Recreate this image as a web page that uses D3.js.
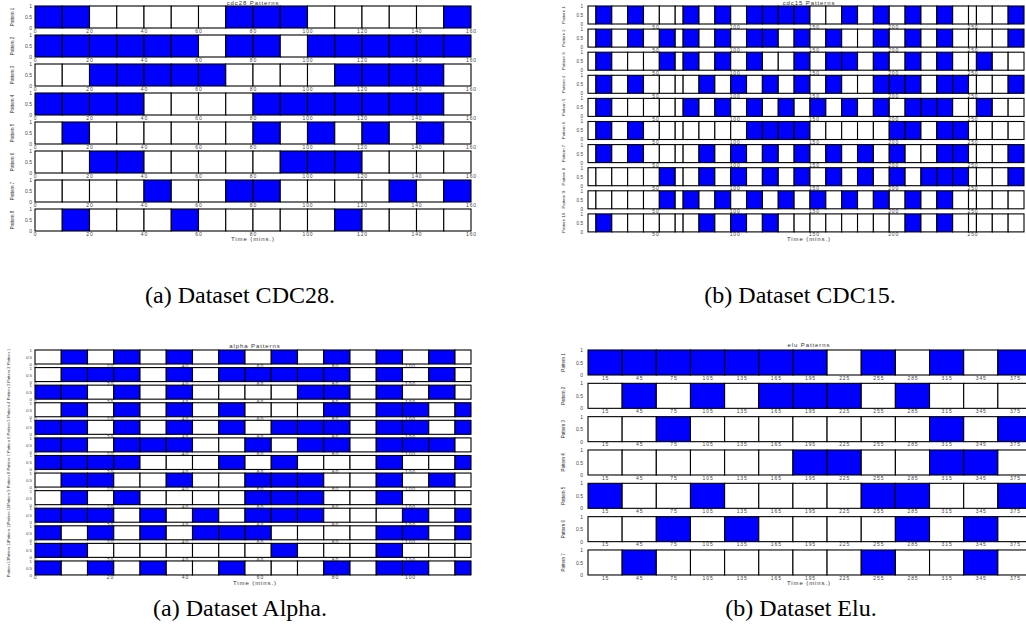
<!DOCTYPE html>
<html><head><meta charset="utf-8">
<script src="https://cdn.jsdelivr.net/npm/d3@7/dist/d3.min.js"></script>
<style>body{margin:0;background:#fff;} svg{display:block;}</style>
</head><body><svg id="c" width="1026" height="627"></svg>
<script>
// ---------- DATA ----------
const yTicks = [0, 0.5, 1];

const cdc28Starts = [0,10,20,30,40,50,60,70,80,90,100,110,120,130,140,150];
const cdc28Width = 10;
const cdc28Ticks = [0,20,40,60,80,100,120,140,160];
const cdc28Patterns = [
  [1,1,0,0,0,0,0,1,1,1,0,0,0,0,0,1],
  [1,1,1,1,1,1,0,1,1,0,1,1,1,1,1,1],
  [0,0,1,1,1,1,1,0,0,0,0,1,1,1,1,0],
  [1,1,1,1,0,0,0,0,1,1,1,1,1,1,1,0],
  [0,1,0,0,0,0,0,0,1,0,1,0,1,0,1,0],
  [0,0,1,1,0,0,0,0,0,1,1,1,0,0,0,0],
  [0,0,0,0,1,0,0,1,1,0,0,0,0,1,0,1],
  [0,1,0,0,0,1,0,0,0,0,0,1,0,0,0,0]
];

const cdc15Edges = [7.5,12.5,22.5,32.5,42.5,52.5,62.5,67.5,77.5,87.5,97.5,107.5,117.5,127.5,137.5,
  147.5,157.5,167.5,177.5,187.5,197.5,207.5,217.5,227.5,237.5,247.5,252.5,262.5,272.5,282.5];
const cdc15Ticks = [50,100,150,200,250];
const cdc15Patterns = [
  [0,1,0,1,0,0,0,1,0,1, 0,1,1,1,1,0,0,1,0,1, 0,1,0,1,0,0,0,0,1],
  [0,1,0,1,0,1,0,1,0,1, 0,1,1,0,1,0,1,0,0,1, 0,1,0,1,0,0,0,0,1],
  [0,1,0,0,0,1,0,1,0,1, 0,1,0,0,1,0,1,1,0,1, 0,1,0,1,0,0,1,0,0],
  [0,1,0,1,0,0,0,0,1,0, 1,0,1,0,1,0,1,0,0,1, 1,1,0,1,1,0,0,0,1],
  [0,1,0,0,0,0,0,1,0,1, 0,1,0,1,0,1,0,1,0,1, 0,1,1,1,0,0,1,0,0],
  [0,1,0,1,0,0,0,0,0,0, 0,1,1,1,1,0,0,0,0,0, 1,1,0,1,1,0,0,0,0],
  [0,1,0,1,0,0,0,0,1,0, 1,0,1,0,1,0,1,0,1,0, 1,0,0,1,1,0,0,0,1],
  [0,0,0,0,0,1,0,0,1,0, 1,0,1,0,1,0,1,0,1,0, 1,0,1,1,1,0,0,0,1],
  [0,0,0,0,0,1,0,1,0,1, 0,1,0,1,0,1,0,1,0,1, 0,1,0,1,0,0,0,0,0],
  [0,1,0,0,0,0,0,0,1,0, 1,0,1,0,0,0,0,0,0,0, 0,1,0,1,0,0,0,0,0]
];

const alphaStarts = [0,7,14,21,28,35,42,49,56,63,70,77,84,91,98,105,112];
const alphaWidth = 7;
const alphaTicks = [0,20,40,60,80,100];
const alphaPatterns = [
  [0,1,0,1,0,1,0,1,0,1,0,1,0,1,0,1,0],
  [0,1,1,1,0,1,0,1,1,1,1,1,0,1,0,1,0],
  [1,1,0,1,0,1,0,0,0,0,1,1,0,1,0,1,0],
  [0,1,0,1,0,1,0,1,0,0,0,1,0,1,1,0,1],
  [1,1,0,1,0,1,0,1,0,1,1,1,0,1,1,0,1],
  [1,1,0,1,1,1,0,0,1,0,1,1,0,1,1,1,0],
  [1,1,1,1,0,0,0,1,0,1,0,0,0,1,0,0,1],
  [0,1,1,0,0,1,0,0,1,1,1,0,0,1,0,1,0],
  [0,1,0,1,0,0,0,0,1,1,1,0,0,1,0,0,0],
  [1,1,1,0,1,0,1,0,1,1,1,0,0,0,1,0,1],
  [1,0,1,0,1,0,1,1,1,0,0,0,0,1,1,0,1],
  [1,1,0,0,0,0,0,0,0,1,0,0,0,1,0,0,0],
  [1,0,1,0,1,0,0,1,0,0,0,1,0,1,1,0,1]
];

const eluCenters = [15,45,75,105,135,165,195,225,255,285,315,345,375];
const eluWidth = 30;
const eluTicks = [15,45,75,105,135,165,195,225,255,285,315,345,375];
const eluPatterns = [
  [1,1,1,1,1,1,1,0,1,0,1,0,1],
  [0,1,0,1,0,1,1,1,0,1,0,0,0],
  [0,0,1,0,0,0,0,0,0,0,1,0,1],
  [0,0,0,0,0,0,1,1,0,0,1,1,0],
  [1,0,0,1,0,0,0,0,1,1,0,0,1],
  [0,0,1,0,1,0,0,0,0,1,0,1,0],
  [0,1,0,0,0,0,0,0,1,0,0,1,0]
];

const panelTitles = ["cdc28 Patterns", "cdc15 Patterns", "alpha Patterns", "elu Patterns"];
const captions = ["(a) Dataset CDC28.", "(b) Dataset CDC15.", "(a) Dataset Alpha.", "(b) Dataset Elu."];
const xLabel = "Time (mins.)";

// ---------- DRAW ----------
const svg = d3.select("#c");
const BLUE = "#0000ff";
const tinyFont = "Liberation Sans, Arial, sans-serif";

function drawPanel(o) {
  const x = d3.scaleLinear().domain(o.domain).range([o.x0, o.x1]).clamp(true);
  const g = svg.append("g");
  o.patterns.forEach((row, i) => {
    const top = o.top0 + i * o.pitch;
    const y = d3.scaleLinear().domain([0, 1]).range([top + o.h, top]);
    const rg = g.append("g");
    // x axis (tick labels under each row)
    const xa = rg.append("g").attr("transform", `translate(0,${y(0)})`)
      .call(d3.axisBottom(x).tickValues(o.ticks).tickSize(0).tickPadding(o.tickPad).tickFormat(d3.format("d")));
    xa.select(".domain").remove();
    xa.selectAll("text").attr("font-size", o.fs).attr("font-family", tinyFont)
      .attr("fill", "#444").attr("letter-spacing", "0.9px");
    // y axis
    const ya = rg.append("g").attr("transform", `translate(${o.x0},0)`)
      .call(d3.axisLeft(y).tickValues(yTicks).tickSize(0).tickPadding(o.yPad).tickFormat(d => d === 0.5 ? "0.5" : d3.format("d")(d)));
    ya.select(".domain").remove();
    ya.selectAll("text").attr("font-size", o.yfs).attr("font-family", tinyFont).attr("fill", "#444");
    // cells
    const cells = row.map((v, j) => ({ v, a: o.cells[j][0], b: o.cells[j][1] }));
    rg.selectAll("rect.cell").data(cells).join("rect").attr("class", "cell")
      .attr("x", d => x(d.a)).attr("width", d => Math.max(0, x(d.b) - x(d.a)))
      .attr("y", y(1)).attr("height", y(0) - y(1))
      .attr("fill", d => d.v ? BLUE : "#ffffff")
      .attr("stroke", "#000").attr("stroke-width", 1.1);
    // row label
    rg.append("text").attr("transform", `translate(${o.labelX},${top + o.h / 2}) rotate(-90)`)
      .attr("text-anchor", "middle").attr("dy", "0.35em")
      .attr("font-size", o.lfs).attr("font-family", tinyFont).attr("fill", "#333")
      .text("Pattern " + (i + 1));
  });
  // title
  svg.append("text").attr("x", o.cx).attr("y", o.titleY).attr("text-anchor", "middle")
    .attr("font-size", 6).attr("font-family", tinyFont).attr("letter-spacing", "0.9px").attr("fill", "#333")
    .text(o.title);
  // x label
  svg.append("text").attr("x", o.cx).attr("y", o.xlabY).attr("text-anchor", "middle")
    .attr("font-size", 6).attr("font-family", tinyFont).attr("letter-spacing", "0.9px").attr("fill", "#333")
    .text(xLabel);
}

drawPanel({
  domain: [0, 160], x0: 35, x1: 471, top0: 6, pitch: 29.0, h: 22,
  cells: cdc28Starts.map(s => [s, s + cdc28Width]), patterns: cdc28Patterns, ticks: cdc28Ticks,
  fs: 5, yfs: 5, lfs: 4.5, tickPad: 1.0, yPad: 3, labelX: 12, cx: 253, titleY: 4.5, xlabY: 241, title: panelTitles[0]
});
drawPanel({
  domain: [7.5, 282.5], x0: 588, x1: 1024, top0: 6, pitch: 23.1, h: 18,
  cells: d3.pairs(cdc15Edges), patterns: cdc15Patterns, ticks: cdc15Ticks,
  fs: 5, yfs: 4.6, lfs: 4.3, tickPad: 1.0, yPad: 5, labelX: 563, cx: 809, titleY: 4.5, xlabY: 241, title: panelTitles[1]
});
drawPanel({
  domain: [0, 116.27], x0: 35, x1: 471, top0: 350, pitch: 17.58, h: 14,
  cells: alphaStarts.map(s => [s, s + alphaWidth]), patterns: alphaPatterns, ticks: alphaTicks,
  fs: 5, yfs: 4.4, lfs: 4.0, tickPad: 0.8, yPad: 3, labelX: 9, cx: 255, titleY: 347.5, xlabY: 584.5, title: panelTitles[2]
});
drawPanel({
  domain: [0, 390], x0: 588, x1: 1032, top0: 350, pitch: 33.33, h: 25,
  cells: eluCenters.map(c => [c - eluWidth / 2, c + eluWidth / 2]), patterns: eluPatterns, ticks: eluTicks,
  fs: 5, yfs: 5, lfs: 4.5, tickPad: 1.0, yPad: 5, labelX: 563, cx: 809, titleY: 346.5, xlabY: 584.5, title: panelTitles[3]
});

// captions
const capPos = [[240, 303], [800, 303], [240, 616], [801, 616]];
svg.selectAll("text.cap").data(captions).join("text").attr("class", "cap")
  .attr("x", (d, i) => capPos[i][0]).attr("y", (d, i) => capPos[i][1])
  .attr("text-anchor", "middle").attr("font-family", "Liberation Serif, Times New Roman, serif")
  .attr("font-size", 24).attr("fill", "#000").text(d => d);
</script></body></html>
